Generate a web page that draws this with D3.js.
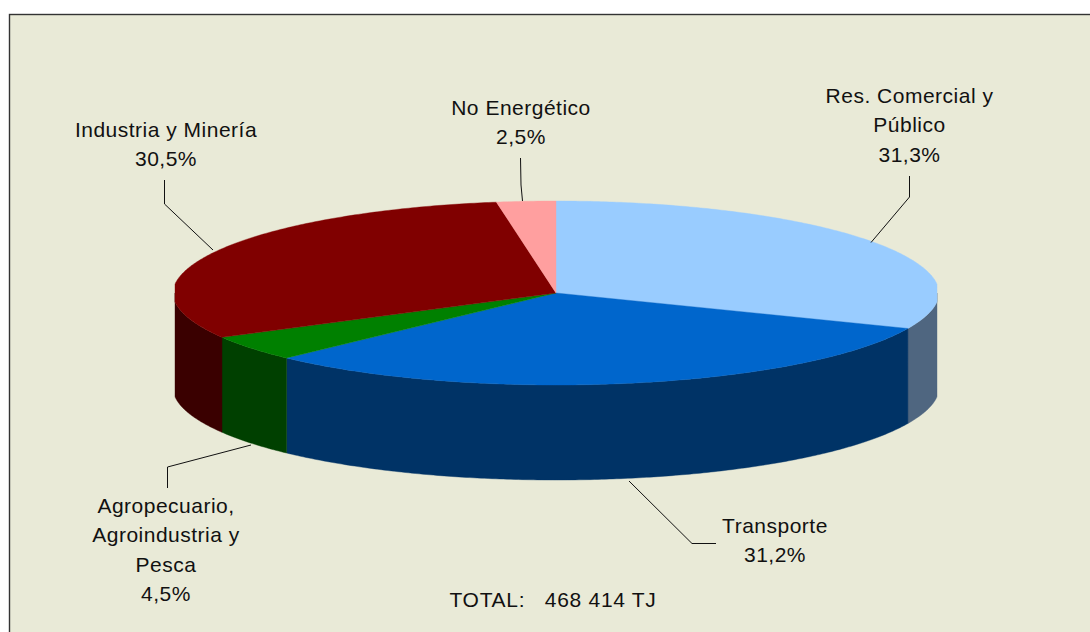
<!DOCTYPE html>
<html><head><meta charset="utf-8">
<script src="https://cdn.jsdelivr.net/npm/d3@7/dist/d3.min.js"></script>
<style>html,body{margin:0;padding:0;background:#fff;}svg{display:block;}</style>
</head><body><svg id="c" width="1090" height="632"></svg>
<script>
const categories = ["Res. Comercial y Público","Transporte","Agropecuario, Agroindustria y Pesca","Industria y Minería","No Energético"];
const shares = [31.3,31.2,4.5,30.5,2.5];
const shareLabels = ["31,3%","31,2%","4,5%","30,5%","2,5%"];
const topColors = ["#99CCFF","#0066CC","#008000","#800000","#FF9F9F"];
const sideColors = ["#4F6680","#003366","#004000","#3A0000","#7F5050"];
const labelLines = [["Res. Comercial y","Público"],["Transporte"],["Agropecuario,","Agroindustria y","Pesca"],["Industria y Minería"],["No Energético"]];
const labelCenters = [[909.5,96.5],[775,526.5],[166,506.5],[166,130.5],[521,108]];
const leaders = [
  [[871,242.5],[909.5,197],[909.5,176]],
  [[629,481],[692,543.5],[716,543.5]],
  [[251,445],[167.5,467],[167.5,488]],
  [[213,250],[164.5,204],[164.5,180]],
  [[522.5,201],[521,185],[520.5,158]]
];
const totalText = "TOTAL:   468 414 TJ";

const W=1090,H=632,cx=556,cy=293,rx=381,ry=92,depth=95;
const svg=d3.select("#c");
svg.append("rect").attr("x",9.5).attr("y",14.5).attr("width",W).attr("height",H)
  .attr("fill","#E9EAD7").attr("stroke","#333").attr("stroke-width",1.4);

const x=d3.scaleLinear().domain([-1,1]).range([cx-rx,cx+rx]);
const y=d3.scaleLinear().domain([-1,1]).range([cy-ry,cy+ry]);
const pie=d3.pie().sort(null).value(d=>d);
const arcs=pie(shares);
// slightly flattened flanks, as in the reference's outline
const flat=s=>Math.sign(s)*Math.min(1,Math.abs(s)+0.005*Math.pow(Math.abs(s),20));
const px=a=>x(flat(Math.sin(a))), py=a=>y(-Math.cos(a));
const line=d3.line();
function samples(a0,a1){const n=Math.max(2,Math.ceil((a1-a0)/0.01));return d3.range(n+1).map(i=>a0+(a1-a0)*i/n);}

const gSide=svg.append("g"), gTop=svg.append("g");
// side walls: only the front half (angles between 90° and 270°) is visible
arcs.forEach((d,i)=>{
  const a0=Math.max(d.startAngle,Math.PI/2),a1=Math.min(d.endAngle,Math.PI*1.5);
  if(a1<=a0)return;
  const s=samples(a0,a1);
  const pts=s.map(a=>[px(a),py(a)]).concat(s.slice().reverse().map(a=>[px(a),py(a)+depth]));
  gSide.append("path").attr("d",line(pts)+"Z").attr("fill",sideColors[i]).attr("stroke",sideColors[i]).attr("stroke-width",0.4);
});
arcs.forEach((d,i)=>{
  const pts=[[x(0),y(0)]].concat(samples(d.startAngle,d.endAngle).map(a=>[px(a),py(a)]));
  gTop.append("path").attr("d",line(pts)+"Z").attr("fill",topColors[i]).attr("stroke",topColors[i]).attr("stroke-width",0.4);
});
svg.append("g").selectAll("path").data(leaders).join("path")
  .attr("d",d=>line(d)).attr("fill","none").attr("stroke","#111").attr("stroke-width",1);

const font="'Liberation Sans',Arial,sans-serif";
const lh=29.4;
const tg=svg.append("g").attr("font-family",font).attr("font-size",21).attr("fill","#111").attr("text-anchor","middle").attr("letter-spacing",0.5);
labelLines.forEach((ls,i)=>{
  ls.concat([shareLabels[i]]).forEach((t,k)=>{
    tg.append("text").attr("x",labelCenters[i][0]).attr("y",labelCenters[i][1]+k*lh+6.5).text(t);
  });
});
tg.append("text").attr("x",553).attr("y",607).attr("letter-spacing",0.7).style("white-space","pre").text(totalText);
</script></body></html>
